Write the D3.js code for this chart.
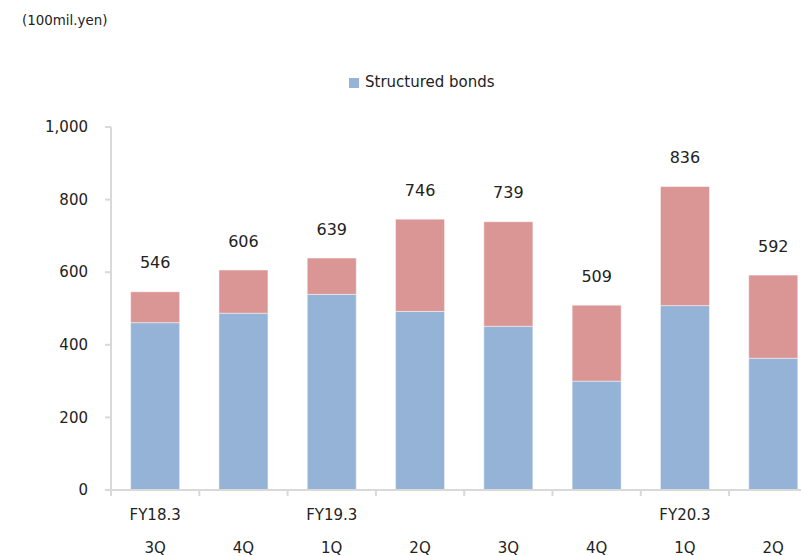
<!DOCTYPE html>
<html>
<head>
<meta charset="utf-8">
<script src="https://cdn.jsdelivr.net/npm/d3@7"></script>
<style>
  body { margin: 0; background: #fff; }
  svg { display: block; font-family: "DejaVu Sans", Verdana, sans-serif; }
</style>
</head>
<body>
<svg width="801" height="556"></svg>
<script>
// quarters on the x axis, fiscal-year label shown under some of them
const quarters = ["3Q", "4Q", "1Q", "2Q", "3Q", "4Q", "1Q", "2Q"];
const fiscalYears = ["FY18.3", "", "FY19.3", "", "", "", "FY20.3", ""];
const structured = [461, 487, 539, 492, 451, 300, 508, 363];
const other = [85, 119, 100, 254, 288, 209, 328, 229];
const totals = [546, 606, 639, 746, 739, 509, 836, 592];
const yTicks = [0, 200, 400, 600, 800, 1000];

const svg = d3.select("svg");
const keys = quarters.map((q, i) => i);

const x = d3.scaleBand().domain(keys).range([111, 817.4])
  .paddingInner(0.445).paddingOuter(0.2225);
const y = d3.scaleLinear().domain([0, 1000]).range([490, 127]);
const halfGap = x.step() * x.paddingInner() / 2;

const rows = keys.map(i => ({i, s: structured[i], o: other[i], t: totals[i]}));
const stack = d3.stack().keys(["s", "o"])(rows);
const colors = {s: "#95b3d7", o: "#d99694"};

// axes
const axisColor = "#d9d9d9";
svg.append("line").attr("x1", 111).attr("x2", 111)
  .attr("y1", y(1000)).attr("y2", y(0))
  .attr("stroke", axisColor).attr("stroke-width", 2);
svg.selectAll(".ytick").data(yTicks).enter().append("line")
  .attr("x1", 105).attr("x2", 111)
  .attr("y1", d => y(d)).attr("y2", d => y(d))
  .attr("stroke", axisColor).attr("stroke-width", 2);
svg.selectAll(".ylab").data(yTicks).enter().append("text")
  .attr("x", 88).attr("y", d => y(d)).attr("dy", "0.35em")
  .attr("text-anchor", "end").attr("font-size", 15).attr("fill", "#222")
  .text(d => d3.format(",")(d));

// bars
svg.append("g").selectAll("g").data(stack).enter().append("g")
  .attr("fill", d => colors[d.key])
  .selectAll("rect").data(d => d).enter().append("rect")
  .attr("x", d => x(d.data.i))
  .attr("width", x.bandwidth())
  .attr("y", d => y(d[1]))
  .attr("height", d => y(d[0]) - y(d[1]))
  .attr("stroke", "#fff").attr("stroke-opacity", 0.45).attr("stroke-width", 1);

// x axis line and ticks
svg.append("line").attr("x1", 111).attr("x2", 801)
  .attr("y1", y(0)).attr("y2", y(0))
  .attr("stroke", axisColor).attr("stroke-width", 2);
svg.selectAll(".xtick").data(keys).enter().append("line")
  .attr("x1", d => x(d) - halfGap).attr("x2", d => x(d) - halfGap)
  .attr("y1", y(0)).attr("y2", y(0) + 6)
  .attr("stroke", axisColor).attr("stroke-width", 2);

svg.selectAll(".fy").data(keys).enter().append("text")
  .attr("x", d => x(d) + x.bandwidth() / 2).attr("y", 515).attr("dy", "0.35em")
  .attr("text-anchor", "middle").attr("font-size", 15).attr("fill", "#222")
  .text(d => fiscalYears[d]);
svg.selectAll(".q").data(keys).enter().append("text")
  .attr("x", d => x(d) + x.bandwidth() / 2).attr("y", 548).attr("dy", "0.35em")
  .attr("text-anchor", "middle").attr("font-size", 15).attr("fill", "#222")
  .text(d => quarters[d]);

// total labels
svg.selectAll(".tot").data(rows).enter().append("text")
  .attr("x", d => x(d.i) + x.bandwidth() / 2)
  .attr("y", d => y(d.t) - 29).attr("dy", "0.35em")
  .attr("text-anchor", "middle").attr("font-size", 16).attr("fill", "#222")
  .text(d => d.t);

// legend
svg.append("rect").attr("x", 349).attr("y", 78).attr("width", 10).attr("height", 10)
  .attr("fill", colors.s);
svg.append("text").attr("x", 365).attr("y", 82).attr("dy", "0.35em")
  .attr("font-size", 15).attr("fill", "#222").text("Structured bonds");

// unit
svg.append("text").attr("x", 22).attr("y", 20).attr("dy", "0.35em")
  .attr("font-size", 13.4).attr("fill", "#222").text("(100mil.yen)");
</script>
</body>
</html>
